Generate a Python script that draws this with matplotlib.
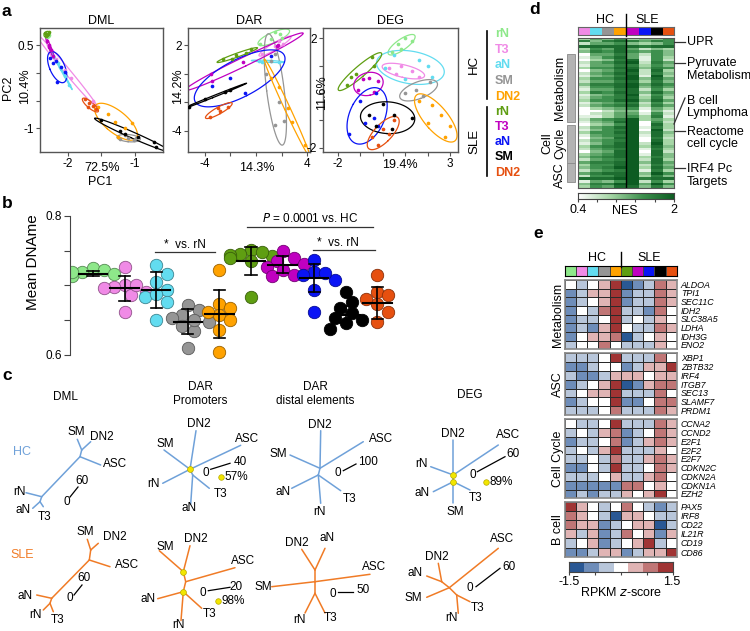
import numpy as np
import matplotlib
matplotlib.use("Agg")
import matplotlib.pyplot as plt
from matplotlib.colors import LinearSegmentedColormap, ListedColormap

plt.rcParams["font.family"] = ["Liberation Sans", "DejaVu Sans"]

W, H = 750, 631

# ---------------------------------------------------------------- groups
GROUPS = ["rN", "T3", "aN", "SM", "DN2"]
HC_COLORS = ["#8ee88a", "#f08ae6", "#62dcf0", "#959595", "#ffa200"]
SLE_COLORS = ["#5f9e12", "#c000c0", "#0a14f5", "#000000", "#e65010"]

# ---------------------------------------------------------------- panel a (PCA points)
DML_HC = {
    "rN": [(-2.33, 0.70), (-2.30, 0.66), (-2.28, 0.68), (-2.32, 0.64)],
    "T3": [(-2.30, 0.50), (-2.18, 0.25), (-2.05, 0.05), (-1.95, -0.10), (-1.62, -0.50)],
    "aN": [(-2.22, 0.30), (-2.12, 0.10), (-2.05, -0.05), (-1.98, -0.22), (-2.15, 0.18)],
    "SM": [(-1.22, -1.20), (-1.10, -1.18), (-1.02, -1.22), (-1.15, -1.12), (-0.98, -1.18)],
    "DN2": [(-1.55, -0.62), (-1.30, -0.88), (-1.15, -1.00), (-1.25, -1.15), (-1.05, -0.90), (-1.40, -0.75)],
}
DML_SLE = {
    "rN": [(-2.35, 0.72), (-2.32, 0.68), (-2.30, 0.70), (-2.33, 0.66), (-2.29, 0.73)],
    "T3": [(-2.31, 0.58), (-2.28, 0.50), (-2.25, 0.42), (-2.22, 0.30), (-2.29, 0.46)],
    "aN": [(-2.27, 0.27), (-2.22, 0.17), (-2.18, 0.22), (-2.10, 0.10), (-2.16, -0.16), (-2.05, 0.02)],
    "SM": [(-1.50, -0.85), (-1.22, -1.05), (-1.15, -1.10), (-0.72, -1.25), (-0.68, -1.34), (-0.95, -1.15)],
    "DN2": [(-1.75, -0.48), (-1.68, -0.55), (-1.62, -0.60), (-1.58, -0.66), (-1.70, -0.62)],
}
DAR_HC = {
    "rN": [(0.3, 2.1), (1.5, 2.9), (1.9, 2.8), (2.0, 2.5), (1.2, 2.4)],
    "T3": [(1.8, 2.3), (2.1, 2.1), (0.5, 1.4), (1.5, 1.9)],
    "aN": [(0.5, 0.85), (1.2, 0.9), (1.8, 0.8), (0.2, 0.9)],
    "SM": [(1.5, 1.4), (0.8, 0.0), (1.2, 0.9), (2.2, -3.3), (1.5, -3.6), (1.8, -2.0)],
    "DN2": [(1.2, -0.3), (1.8, -0.9), (2.8, -3.4), (3.8, -5.0), (2.5, -2.4)],
}
DAR_SLE = {
    "rN": [(-2.6, 1.0), (-1.6, 1.3), (-0.8, 1.45), (-0.4, 1.7), (-1.9, 1.05)],
    "T3": [(-3.5, 0.0), (-3.4, -0.5), (1.6, 1.9), (1.7, 2.0), (-1.0, 0.8)],
    "aN": [(-3.45, -0.86), (-0.86, -1.35), (1.2, 1.2), (-2.0, -0.3)],
    "SM": [(-5.2, -2.3), (-4.0, -1.8), (-2.4, -1.25), (-2.0, -1.15)],
    "DN2": [(-3.6, -3.0), (-2.8, -2.6), (-2.2, -2.3), (-3.0, -2.4)],
}
DEG_HC = {
    "rN": [(0.4, 1.5), (0.7, 1.8), (1.0, 2.0), (1.3, 1.9), (0.8, 1.6)],
    "T3": [(0.3, 0.9), (0.8, 1.0), (1.3, 0.8), (1.6, 0.6), (0.6, 0.7)],
    "aN": [(0.1, 0.9), (0.5, 1.4), (1.6, 1.2), (2.2, 0.6), (1.0, 0.5), (2.0, 1.0)],
    "SM": [(1.0, 0.0), (1.5, 0.1), (2.1, 0.4), (1.8, -0.1)],
    "DN2": [(1.6, -0.3), (2.2, -0.45), (2.6, -0.8), (3.0, -1.2), (2.8, -1.6), (2.0, -1.1)],
}
DEG_SLE = {
    "rN": [(-1.6, 0.3), (-1.4, 0.6), (-0.5, 1.3), (-1.2, 0.7), (-0.4, 1.0)],
    "T3": [(-1.1, 0.1), (-0.6, 0.55), (-0.2, 0.45), (-0.4, 0.05), (-0.9, 0.5)],
    "aN": [(-1.5, -1.5), (-1.0, -0.3), (-0.4, -0.9), (-0.2, -1.2), (-0.8, -1.1), (-0.3, 0.0)],
    "SM": [(-0.6, -0.8), (0.0, -0.4), (0.5, -0.8), (-0.3, -1.2), (0.4, -1.3), (1.3, -0.9)],
    "DN2": [(-0.5, -1.6), (0.0, -1.3), (0.5, -1.0), (-0.2, -1.9), (0.3, -1.5)],
}

# ---------------------------------------------------------------- panel b
B_VALUES = [
    [0.725, 0.722, 0.720, 0.718, 0.715, 0.713, 0.719, 0.716],
    [0.727, 0.701, 0.698, 0.696, 0.691, 0.686, 0.662, 0.700],
    [0.729, 0.717, 0.705, 0.693, 0.683, 0.676, 0.650, 0.688],
    [0.672, 0.665, 0.658, 0.653, 0.648, 0.641, 0.634, 0.610, 0.650],
    [0.722, 0.674, 0.667, 0.658, 0.650, 0.636, 0.605, 0.662],
    [0.751, 0.746, 0.744, 0.742, 0.739, 0.735, 0.683, 0.748],
    [0.749, 0.739, 0.735, 0.727, 0.722, 0.715, 0.713, 0.731],
    [0.736, 0.720, 0.715, 0.708, 0.693, 0.662, 0.718],
    [0.691, 0.676, 0.667, 0.660, 0.653, 0.646, 0.638, 0.650],
    [0.715, 0.691, 0.686, 0.674, 0.662, 0.648, 0.680],
]
B_MEAN = [0.717, 0.696, 0.694, 0.648, 0.659, 0.735, 0.730, 0.711, 0.658, 0.675]
B_SD = [0.004, 0.018, 0.026, 0.018, 0.034, 0.020, 0.0125, 0.020, 0.012, 0.023]

# ---------------------------------------------------------------- panel c (trees, pixel geometry)
TREES = [
    dict(color="blue",
         nodes={"A": (41.7, 496.7), "D": (40, 501.7), "B": (80, 456.7), "C": (81.7, 450),
                "rN": (26, 492.7), "aN": (32.7, 508.3), "T3": (43.3, 506.7), "SM": (77.3, 439.3),
                "DN2": (90.7, 441.7), "ASC": (100.7, 465)},
         edges=[("A", "B"), ("A", "rN"), ("A", "D"), ("D", "aN"), ("D", "T3"), ("B", "C"),
                ("C", "SM"), ("C", "DN2"), ("B", "ASC")],
         labels={"SM": (76, 432), "DN2": (102, 437), "ASC": (115, 464), "rN": (19, 492),
                 "aN": (23, 510), "T3": (45, 517)},
         bar=((70, 497), (78, 487)), bar_text=[("0", (67, 502)), ("60", (82, 481))],
         dots=[], pct=None),
    dict(color="orange",
         nodes={"B": (89.3, 560), "C": (90.7, 550), "SM": (87.3, 539.3), "DN2": (98.3, 543.3),
                "ASC": (110, 566.7), "A": (51.7, 598.3), "aN": (36.7, 595), "D": (50, 603.3),
                "rN": (43.3, 610), "T3": (53.3, 611.7)},
         edges=[("B", "C"), ("C", "SM"), ("C", "DN2"), ("B", "ASC"), ("B", "A"), ("A", "aN"),
                ("A", "D"), ("D", "rN"), ("D", "T3")],
         labels={"SM": (85, 532), "DN2": (115, 537), "ASC": (127, 565), "aN": (25, 596),
                 "rN": (35, 615), "T3": (58, 620)},
         bar=((74, 595), (82, 585)), bar_text=[("0", (70, 598)), ("60", (84, 578))],
         dots=[], pct=None),
    dict(color="blue",
         nodes={"N1": (190, 469.3), "N2": (192.7, 475), "DN2": (196, 430.7), "SM": (164, 450),
                "rN": (162.7, 483.3), "ASC": (240.7, 445.3), "T3": (209.3, 488.3), "aN": (190.7, 504)},
         edges=[("N1", "DN2"), ("N1", "SM"), ("N1", "rN"), ("N1", "ASC"), ("N1", "N2"),
                ("N2", "T3"), ("N2", "aN")],
         labels={"DN2": (199, 424.3), "SM": (165, 444), "ASC": (247.3, 439.3), "rN": (154, 484.3),
                 "T3": (221, 494), "aN": (189.3, 508.3)},
         bar=((210.7, 469.3), (230, 463.3)), bar_text=[("0", (205.7, 472.7)), ("40", (240, 461.7))],
         dots=["N1"], pct=((220.7, 477.3), "57%")),
    dict(color="orange",
         nodes={"N1": (183.3, 571.7), "N3": (185.7, 581.7), "N2": (183.3, 591.7), "SM": (159.3, 550.7),
                "DN2": (190, 545.7), "ASC": (235, 567.7), "aN": (157.7, 598.7), "T3": (201.7, 608.3),
                "rN": (181, 620.5)},
         edges=[("N1", "SM"), ("N1", "DN2"), ("N1", "N3"), ("N3", "ASC"), ("N3", "N2"),
                ("N2", "aN"), ("N2", "T3"), ("N2", "rN")],
         labels={"SM": (165, 546.7), "DN2": (195.7, 539), "ASC": (242.7, 561), "aN": (148.3, 599.3),
                 "T3": (210, 614), "rN": (178.3, 624.5)},
         bar=((208.3, 590.7), (230, 587.3)), bar_text=[("0", (202.7, 593.3)), ("20", (236, 586.7))],
         dots=["N1", "N2"], pct=((217.7, 600.7), "98%")),
    dict(color="blue",
         nodes={"N1": (320, 468.3), "N2": (318.3, 475), "DN2": (320.7, 430.7), "SM": (290, 455),
                "ASC": (363.3, 441.7), "aN": (291.7, 488.3), "rN": (320.7, 503.3), "T3": (340.7, 490.7)},
         edges=[("N1", "DN2"), ("N1", "SM"), ("N1", "ASC"), ("N1", "N2"), ("N2", "aN"),
                ("N2", "rN"), ("N2", "T3")],
         labels={"DN2": (320, 425), "SM": (278.3, 454.3), "ASC": (381, 439.3), "aN": (283.3, 491.7),
                 "rN": (319, 511.7), "T3": (350, 499.3)},
         bar=((343.3, 470.7), (356, 464)), bar_text=[("0", (337.7, 473.3)), ("100", (367.7, 461.7))],
         dots=[], pct=None),
    dict(color="orange",
         nodes={"Na": (315, 570), "Nb": (315, 581.7), "Nc": (315, 593.3), "DN2": (301.7, 549.3),
                "aN": (325, 548.3), "SM": (271.7, 586.7), "ASC": (370, 574.3), "rN": (305, 613),
                "T3": (325, 613)},
         edges=[("Na", "DN2"), ("Na", "aN"), ("Na", "Nb"), ("Nb", "SM"), ("Nb", "ASC"),
                ("Nb", "Nc"), ("Nc", "rN"), ("Nc", "T3")],
         labels={"DN2": (296.7, 543.3), "aN": (326.7, 538.3), "SM": (263, 587.3), "ASC": (374.3, 566.7),
                 "rN": (300, 620), "T3": (331, 618)},
         bar=((338.3, 592.3), (353.3, 592.3)), bar_text=[("0", (333.3, 594)), ("50", (363.3, 590))],
         dots=[], pct=None),
    dict(color="blue",
         nodes={"N1": (453.3, 475), "N2": (453.3, 481.7), "DN2": (453.3, 440), "rN": (430.7, 466.7),
                "ASC": (498.3, 445), "aN": (433.3, 491.7), "T3": (470, 490), "SM": (453.3, 503.3)},
         edges=[("N1", "DN2"), ("N1", "rN"), ("N1", "ASC"), ("N1", "N2"), ("N2", "aN"),
                ("N2", "T3"), ("N2", "SM")],
         labels={"DN2": (453.3, 434), "rN": (421, 464), "ASC": (508.3, 435), "aN": (422.3, 493.3),
                 "T3": (476, 498.3), "SM": (455, 511.7)},
         bar=((477.3, 471.7), (505, 456.7)), bar_text=[("0", (473.3, 475)), ("60", (513.3, 454))],
         dots=["N1", "N2"], pct=((486, 482.3), "89%")),
    dict(color="orange",
         nodes={"N1": (441.7, 581.7), "N2": (449.3, 587.7), "N3": (456.7, 595), "DN2": (438.3, 563.3),
                "aN": (426.7, 576), "SM": (426.7, 597.3), "ASC": (498.3, 548.3), "T3": (470, 601.7),
                "rN": (458.3, 613.3)},
         edges=[("N1", "DN2"), ("N1", "aN"), ("N2", "SM"), ("N1", "N2"), ("N2", "ASC"),
                ("N2", "N3"), ("N3", "T3"), ("N3", "rN")],
         labels={"ASC": (501.7, 539.3), "DN2": (436.7, 557.3), "aN": (415, 573.3), "SM": (413.3, 598.3),
                 "T3": (477.3, 608.3), "rN": (451.7, 618.3)},
         bar=((476, 586.7), (500, 568.3)), bar_text=[("0", (470, 588.3)), ("60", (509.3, 566.7))],
         dots=[], pct=None),
]
TREE_TITLES = [("DML", (65, 397)), ("DAR\nPromoters", (200, 394)),
               ("DAR\ndistal elements", (315, 394)), ("DEG", (470, 395))]

# ---------------------------------------------------------------- panel d (NES heatmap, digits 0-9)
D_ROWS = [
    "35463446", "74787576", "25564346", "88888788", "36585243", "47686564", "05575264", "14685163",
    "03478162", "25689275", "15577364", "36688476", "04579283", "25688274", "14579193", "36689485",
    "25578374", "47789586", "26689475", "15578263", "37688485", "14579264", "25678373", "36689485",
    "14567263", "25678375", "03456153", "00244041", "02355162", "11356371", "25679353", "14589062",
    "03469083", "25689173", "14679092", "36689284", "15679183", "04589072", "25679083", "14689293",
    "36789384", "25679173", "04589082", "35689184", "46789374", "25679283", "57789485", "36689274",
    "46799385", "25679173", "57889496", "26689374", "88899788", "15469263", "47799596", "36588474",
]
D_COLS = ["#f08ae6", "#62dcf0", "#959595", "#ffa200", "#c000c0", "#0a14f5", "#000000", "#e65010"]

# ---------------------------------------------------------------- panel e (RPKM z-score, -3..3 levels)
E_BLOCKS = [
    ("Metabolism", ["ALDOA", "TPI1", "SEC11C", "IDH2", "SLC38A5", "LDHA", "IDH3G", "ENO2"],
     [[0, -1, 0, 1, 3, -3, -2, -1, 2, 1],
      [-2, -1, 1, 1, 3, -2, -1, -1, 2, 1],
      [-2, -1, 0, 1, 3, -2, -1, -1, 2, 1],
      [-2, 0, -1, 2, 3, -1, -1, -2, 2, 0],
      [-2, -1, -1, 0, 3, -1, 0, -1, 1, 0],
      [-2, -1, -2, 1, 3, 0, -1, -1, 2, 1],
      [-2, 0, 1, 1, 2, -3, -1, 0, 1, 0],
      [-1, 0, 0, 2, 0, -1, -1, -1, 1, 0]]),
    ("ASC", ["XBP1", "ZBTB32", "IRF4", "ITGB7", "SEC13", "SLAMF7", "PRDM1"],
     [[-1, -1, -1, 0, 3, -1, -1, -1, 2, 0],
      [-2, -2, -1, 0, 0, -2, -1, 1, 1, 3],
      [-1, -2, -2, -1, 1, 1, 1, 0, 1, 1],
      [-2, -1, 0, 1, 3, -3, -2, 1, 2, 2],
      [-1, 0, 1, 1, 3, -1, -1, -1, 2, 0],
      [-2, -1, 0, 0, 3, -2, -2, 0, 2, 2],
      [-1, -1, -1, 0, 2, -1, -1, -1, 2, 1]]),
    ("Cell Cycle", ["CCNA2", "CCND2", "E2F1", "E2F2", "E2F7", "CDKN2C", "CDKN2A", "CDKN1A", "EZH2"],
     [[0, -1, -1, 0, 3, -1, -1, -1, 2, 1],
      [-1, 0, -1, 1, 2, -2, -1, 0, 2, 1],
      [-2, -1, -1, 0, 2, -2, -1, 1, 2, 1],
      [-1, 0, -1, 1, 3, -1, -1, -1, 1, 0],
      [-1, -1, 0, -1, 2, -1, -1, 1, 2, 1],
      [-2, -2, 0, -1, 3, -1, -1, 0, 2, 1],
      [-1, -1, -1, 0, 1, -1, -1, 1, 2, 0],
      [-2, -2, -2, -2, -2, 2, 2, 0, 1, 0],
      [-2, -1, -2, -1, -1, 1, 0, 1, 3, 0]]),
    ("B cell", ["PAX5", "IRF8", "CD22", "IL21R", "CD19", "CD86"],
     [[3, 1, 0, -1, 0, 2, 0, -1, -2, -1],
      [2, 1, 0, -1, -3, 1, 1, 0, -1, -1],
      [2, 1, 1, -2, -1, 0, 1, 1, -3, -1],
      [1, -1, 1, -2, -1, 2, 0, 1, -2, 1],
      [-1, 0, 1, -2, -1, 0, 1, 3, -1, 0],
      [-2, -2, -1, 1, 1, -2, -1, 1, 1, 3]]),
]
E_COLS = HC_COLORS + SLE_COLORS
E_LEVELS = ["#2a5894", "#6e8db9", "#b8c6da", "#ffffff", "#e0b4b4", "#c07676", "#a03434"]

TREE_BLUE = "#6fa1d9"
TREE_ORANGE = "#f07b26"


def px_axes(fig, x0, y0, x1, y1):
    return fig.add_axes([x0 / W, 1 - y1 / H, (x1 - x0) / W, (y1 - y0) / H])


def cov_ellipse(pts, k=1.8, n=120):
    pts = np.asarray(pts, dtype=float)
    m = pts.mean(axis=0)
    w, v = np.linalg.eigh(np.cov(pts.T))
    w = np.clip(w, 1e-5, None)
    t = np.linspace(0, 2 * np.pi, n)
    e = v @ np.diag(np.sqrt(w)) @ np.vstack([np.cos(t), np.sin(t)]) * k
    return e[0] + m[0], e[1] + m[1]


def draw_pca(ax, hc, sle, title, xlim, ylim, xticks, xlabels, yticks, ylabels):
    for data, colors in ((hc, HC_COLORS), (sle, SLE_COLORS)):
        for g, c in zip(GROUPS, colors):
            pts = np.array(data[g])
            ex, ey = cov_ellipse(pts)
            ax.plot(ex, ey, color=c, lw=0.9)
            ax.scatter(pts[:, 0], pts[:, 1], s=7, color=c, lw=0, zorder=3)
    ax.set_xlim(*xlim)
    ax.set_ylim(*ylim)
    ax.set_xticks(xticks)
    ax.set_xticklabels(xlabels)
    ax.set_yticks(yticks)
    ax.set_yticklabels(ylabels)
    ax.tick_params(labelsize=8.5, length=3, width=0.8, color="#555555", pad=1.5)
    for s in ax.spines.values():
        s.set_color("#555555")
        s.set_linewidth(1)
    ax.set_title(title, fontsize=9, pad=3)


def swarm_offsets(vals, step_px=31.6, scale=695.0, d=10.5):
    order = np.argsort(vals)[::-1]
    placed = []
    offs = np.zeros(len(vals))
    cands = [0, 6, -6, 11, -11, 16, -16, 21, -21]
    for i in order:
        y = vals[i] * scale
        for c in cands:
            if all((c - px) ** 2 + (y - py) ** 2 >= d * d for px, py in placed):
                break
        placed.append((c, y))
        offs[i] = c / step_px
    return offs


def main():
    fig = plt.figure(figsize=(W / 100, H / 100), dpi=100)
    ov = fig.add_axes([0, 0, 1, 1], zorder=10)
    ov.set_xlim(0, W)
    ov.set_ylim(H, 0)
    ov.axis("off")

    # panel letters
    for letter, (x, y) in {"a": (2, 12), "b": (2, 204), "c": (2, 376), "d": (529, 9), "e": (533, 234)}.items():
        ov.text(x, y, letter, fontsize=12.5, fontweight="bold", ha="left", va="center")

    # ---------------- a
    ax1 = px_axes(fig, 40, 28, 163, 152)
    draw_pca(ax1, DML_HC, DML_SLE, "DML", (-2.42, -0.58), (-1.43, 0.81),
             [-2, -1.5, -1], ["-2", "", "-1"], [0.5, 0, -0.5, -1], ["0.5", "", "", "-1"])
    ax2 = px_axes(fig, 188, 28, 310, 152)
    draw_pca(ax2, DAR_HC, DAR_SLE, "DAR", (-5.3, 4.2), (-5.47, 3.19),
             [-4, -2, 0, 2, 4], ["-4", "", "", "", "4"], [2, 0, -2, -4], ["2", "", "", "-4"])
    ax3 = px_axes(fig, 323, 28, 458, 152)
    draw_pca(ax3, DEG_HC, DEG_SLE, "DEG", (-2.67, 3.36), (-2.15, 2.37),
             [-2, -1, 0, 1, 2, 3], ["-2", "", "", "", "", "3"], [2, 1, 0, -1, -2], ["2", "", "", "", "-2"])
    ov.text(102, 168, "72.5%", fontsize=9, ha="center", va="center")
    ov.text(100, 182, "PC1", fontsize=9, ha="center", va="center")
    ov.text(25, 86, "10.4%", fontsize=9, ha="center", va="center", rotation=90)
    ov.text(8, 88, "PC2", fontsize=9, ha="center", va="center", rotation=90)
    ov.text(257, 168, "14.3%", fontsize=9, ha="center", va="center")
    ov.text(178, 86, "14.2%", fontsize=9, ha="center", va="center", rotation=90)
    ov.text(400, 165, "19.4%", fontsize=9, ha="center", va="center")
    ov.text(322, 93, "11.6%", fontsize=9, ha="center", va="center", rotation=90)

    ys = [34, 50, 65, 81, 97, 112, 127, 142, 157, 173]
    for i, (g, c) in enumerate(zip(GROUPS * 2, HC_COLORS + SLE_COLORS)):
        ov.text(495, ys[i], g, color=c, fontsize=9, fontweight="bold", ha="left", va="center")
    ov.plot([487, 487], [31, 99], color="black", lw=1.2)
    ov.plot([487, 487], [107, 176], color="black", lw=1.2)
    ov.text(474, 64, "HC", fontsize=9.5, rotation=90, ha="center", va="center")
    ov.text(474, 141, "SLE", fontsize=9.5, rotation=90, ha="center", va="center")

    # ---------------- b
    axb = px_axes(fig, 70, 210, 400, 362)
    colors = HC_COLORS + SLE_COLORS
    for i, (vals, c) in enumerate(zip(B_VALUES, colors)):
        vals = np.array(vals)
        xs = i + swarm_offsets(vals)
        edge = tuple(0.6 * v for v in matplotlib.colors.to_rgb(c))
        axb.scatter(xs, vals, s=80, color=c, edgecolor=edge, lw=0.6, zorder=2)
        m, sd = B_MEAN[i], B_SD[i]
        axb.plot([i - 0.45, i + 0.45], [m, m], color="black", lw=1.5, zorder=3)
        axb.plot([i, i], [m - sd, m + sd], color="black", lw=1.2, zorder=3)
        for yy in (m - sd, m + sd):
            axb.plot([i - 0.18, i + 0.18], [yy, yy], color="black", lw=1.2, zorder=3)
    axb.set_xlim(-0.728, 9.715)
    axb.set_ylim(0.5899, 0.8086)
    axb.set_yticks([0.6, 0.65, 0.7, 0.75, 0.8])
    axb.set_yticklabels(["0.6", "", "", "", "0.8"])
    axb.set_xticks([])
    for s in ("top", "right", "bottom"):
        axb.spines[s].set_visible(False)
    axb.spines["left"].set_bounds(0.6, 0.8)
    axb.spines["left"].set_color("#444444")
    axb.tick_params(axis="y", labelsize=8.5, length=4, color="#444444", pad=2)
    axb.patch.set_alpha(0)
    ov.text(33, 262, "Mean DNAme", fontsize=11, rotation=90, ha="center", va="center")
    ov.plot([155, 215], [252, 252], color="#333333", lw=0.9)
    ov.text(185, 245, "*  vs. rN", fontsize=8.5, ha="center", va="center")
    ov.plot([247, 373], [227, 227], color="#333333", lw=0.9)
    ov.text(310, 219, "$\\it{P}$ = 0.0001 vs. HC", fontsize=8.5, ha="center", va="center")
    ov.plot([313, 375], [250, 250], color="#333333", lw=0.9)
    ov.text(338, 243, "*  vs. rN", fontsize=8.5, ha="center", va="center")

    # ---------------- c
    for title, (x, y) in TREE_TITLES:
        ov.text(x, y, title, fontsize=8.5, ha="center", va="center", linespacing=1.3)
    ov.text(22, 452, "HC", color=TREE_BLUE, fontsize=9, ha="center", va="center")
    ov.text(22, 555, "SLE", color=TREE_ORANGE, fontsize=9, ha="center", va="center")
    for tr in TREES:
        col = TREE_BLUE if tr["color"] == "blue" else TREE_ORANGE
        nd = tr["nodes"]
        for a, b in tr["edges"]:
            ov.plot([nd[a][0], nd[b][0]], [nd[a][1], nd[b][1]], color=col, lw=1.1,
                    solid_capstyle="round")
        for name, (x, y) in tr["labels"].items():
            ov.text(x, y, name, fontsize=8.5, ha="center", va="center")
        (x0, y0), (x1, y1) = tr["bar"]
        ov.plot([x0, x1], [y0, y1], color="black", lw=0.9)
        for s, (x, y) in tr["bar_text"]:
            ov.text(x, y, s, fontsize=8.5, ha="center", va="center")
        for d in tr["dots"]:
            ov.plot(*nd[d], "o", ms=4.2, color="#f2e600", mec="#b8a800", mew=0.5, zorder=12)
        if tr["pct"]:
            (x, y), s = tr["pct"]
            ov.plot(x, y, "o", ms=4, color="#f2e600", mec="#b8a800", mew=0.5)
            ov.text(x + 4, y, s, fontsize=8.5, ha="left", va="center")

    # ---------------- d
    dmat = np.array([[0.4 + int(ch) * 1.6 / 9 for ch in row] for row in D_ROWS])
    greens = LinearSegmentedColormap.from_list("g", ["#ffffff", "#a6d6a6", "#3e904e", "#0d5c22"])
    axd = px_axes(fig, 577.7, 37.7, 674, 188.3)
    axd.imshow(dmat, aspect="auto", cmap=greens, vmin=0.4, vmax=2, interpolation="nearest")
    axd.axvline(3.5, color="black", lw=1)
    axd.set_xticks([])
    axd.set_yticks([])
    for s in axd.spines.values():
        s.set_color("#555555")
    axdh = px_axes(fig, 577.7, 26.7, 674, 35.3)
    axdh.imshow([np.arange(len(D_COLS))], aspect="auto", cmap=ListedColormap(D_COLS))
    axdh.set_xticks([])
    axdh.set_yticks([])
    for s in axdh.spines.values():
        s.set_color("#666666")
    ov.plot([626, 626], [14, 36], color="black", lw=1)
    ov.text(605, 20, "HC", fontsize=9, ha="center", va="center")
    ov.text(647, 20, "SLE", fontsize=9, ha="center", va="center")
    for y0, y1 in ((54.3, 121.7), (125, 162.7), (163.3, 182.3)):
        ov.add_patch(plt.Rectangle((567.3, y0), 7.7, y1 - y0, facecolor="#b3b3b3",
                                   edgecolor="#8a8a8a", lw=0.6))
    ov.text(560, 88, "Metabolism", fontsize=9, rotation=90, ha="center", va="center")
    ov.text(547, 143, "Cell", fontsize=9, rotation=90, ha="center", va="center")
    ov.text(560, 143, "Cycle", fontsize=9, rotation=90, ha="center", va="center")
    ov.text(560, 175, "ASC", fontsize=9, rotation=90, ha="center", va="center")
    ann = [("UPR", 41.7, 41.7), ("Pyruvate\nMetabolism", 63.3, 69.5), ("Reactome\ncell cycle", 131, 138),
           ("IRF4 Pc\nTargets", 168.3, 175.5)]
    for txt, yl, yt in ann:
        ov.plot([674, 685], [yl, yl], color="#333333", lw=0.9)
        ov.text(687, yt, txt, fontsize=9, ha="left", va="center", linespacing=1.05)
    ov.plot([674, 685], [124, 98], color="#333333", lw=0.9)
    ov.text(687, 107, "B cell\nLymphoma", fontsize=9, ha="left", va="center", linespacing=1.05)
    axdc = px_axes(fig, 577.7, 193.3, 674, 199)
    axdc.imshow([np.linspace(0.4, 2, 200)], aspect="auto", cmap=greens, vmin=0.4, vmax=2)
    axdc.set_yticks([])
    axdc.set_xticks(np.linspace(0, 199, 6))
    axdc.set_xticklabels([])
    axdc.tick_params(axis="x", length=2.5, color="#444444")
    for s in axdc.spines.values():
        s.set_color("#444444")
    ov.text(578, 210, "0.4", fontsize=9, ha="center", va="center")
    ov.text(625, 211, "NES", fontsize=9, ha="center", va="center")
    ov.text(674, 210, "2", fontsize=9, ha="center", va="center")

    # ---------------- e
    ecmap = ListedColormap(E_LEVELS)
    axeh = px_axes(fig, 564.7, 266, 676.7, 275.7)
    axeh.pcolormesh([np.arange(len(E_COLS))], cmap=ListedColormap(E_COLS), edgecolors="#444444", lw=0.5)
    axeh.set_xticks([])
    axeh.set_yticks([])
    ov.plot([620.7, 620.7], [252, 267], color="black", lw=1)
    ov.text(597, 258, "HC", fontsize=9, ha="center", va="center")
    ov.text(649, 258, "SLE", fontsize=9, ha="center", va="center")
    spans = [(280, 349.3), (353.3, 415), (419.3, 498.3), (501.7, 556.7)]
    for (name, genes, vals), (y0, y1) in zip(E_BLOCKS, spans):
        ax = px_axes(fig, 564.7, y0, 676.7, y1)
        arr = np.array(vals)
        ax.pcolormesh(arr, cmap=ecmap, vmin=-3.5, vmax=3.5, edgecolors="#2a2a2a", lw=0.7)
        ax.set_xlim(0, arr.shape[1])
        ax.set_ylim(arr.shape[0], 0)
        ax.set_xticks([])
        ax.yaxis.tick_right()
        ax.set_yticks(np.arange(len(genes)) + 0.5)
        ax.set_yticklabels(genes, fontsize=6.4, style="italic")
        ax.tick_params(axis="y", length=0, pad=3)
        for s in ax.spines.values():
            s.set_color("#888888")
            s.set_linewidth(1.2)
        ov.text(558, (y0 + y1) / 2, name, fontsize=9, rotation=90, ha="center", va="center")
    axec = px_axes(fig, 569.3, 561.7, 672.7, 571.7)
    axec.pcolormesh([np.arange(-3, 4)], cmap=ecmap, vmin=-3.5, vmax=3.5)
    axec.set_yticks([])
    axec.set_xticks([0, 1.75, 3.5, 5.25, 7])
    axec.set_xticklabels([])
    axec.tick_params(axis="x", length=2.5, color="#444444")
    for s in axec.spines.values():
        s.set_color("#444444")
    ov.text(569, 582, "-1.5", fontsize=9, ha="center", va="center")
    ov.text(672, 582, "1.5", fontsize=9, ha="center", va="center")
    ov.text(621, 592, "RPKM $\\it{z}$-score", fontsize=9, ha="center", va="center")

    fig.savefig("out.png", dpi=100)


if __name__ == "__main__":
    main()
